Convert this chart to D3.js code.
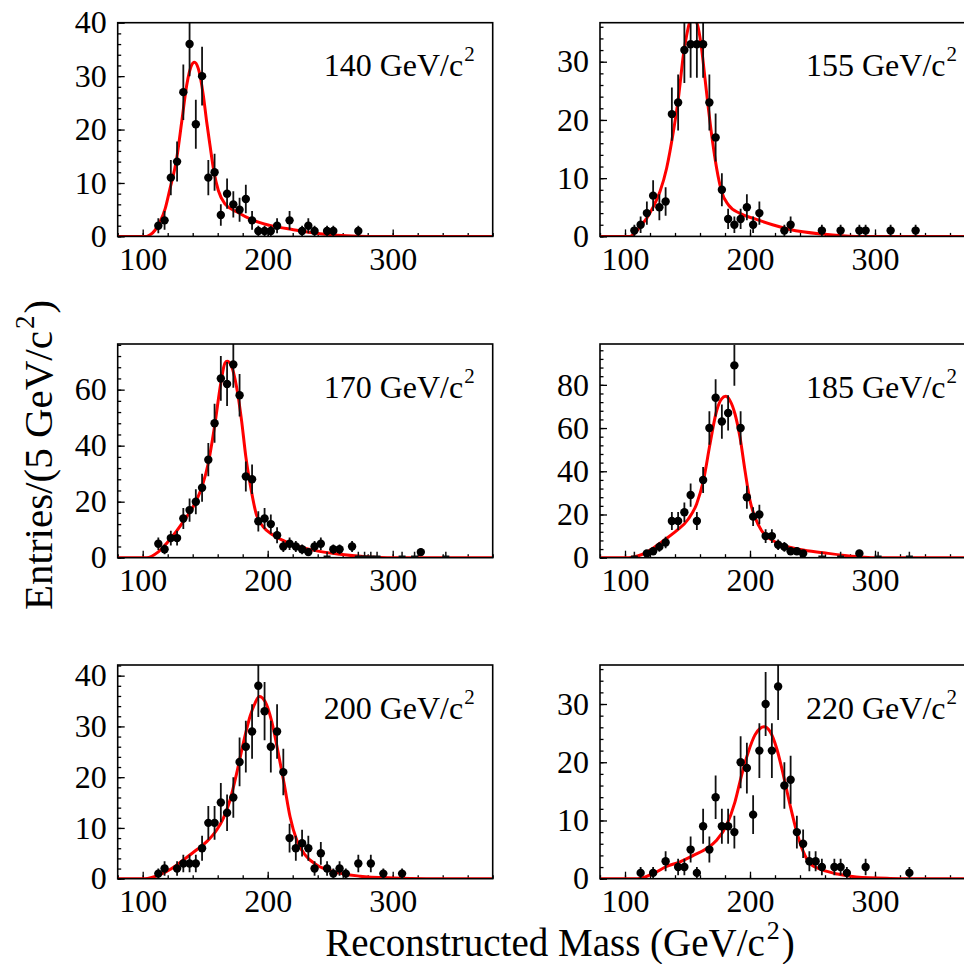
<!DOCTYPE html>
<meta charset="utf-8">
<style>
body { margin: 0; background: #fff; }
text { font-family: "Liberation Serif", "Times New Roman", serif; fill: #000; }
.frame { fill: none; stroke: #000; stroke-width: 1.6px; }
.axis path.domain { display: none; }
.axis line { stroke: #000; stroke-width: 1.3px; }
.fit { fill: none; stroke: #ff0000; stroke-width: 3px; }
.err { stroke: #111; stroke-width: 1.8px; }
.zero { stroke: #111; stroke-width: 1.5px; }
</style>
<svg width="964" height="964"></svg>
<script src="https://d3js.org/d3.v7.min.js"></script>
<script>
// Higgs mass hypotheses, one panel each
var masses = [140, 155, 170, 185, 200, 220];
var yTop = [40, 36.7, 76.3, 98.9, 42.1, 36.7];
var yMajor = [10, 10, 20, 20, 10, 10];
var xTicks = [100, 200, 300];

// [bin centre, entries]
var hist140 = [[112.5,2],[117.5,3],[122.5,11],[127.5,14],[132.5,27],[137.5,36],[142.5,21],[147.5,30],[152.5,11],[157.5,12],[162.5,4],[167.5,8],[172.5,6],[177.5,5],[182.5,7],[187.5,3],[192.5,1],[197.5,1],[202.5,1],[207.5,2],[217.5,3],[227.5,1],[232.5,2],[237.5,1],[247.5,1],[252.5,1],[272.5,1]];
var hist155 = [[107.5,1],[112.5,2],[117.5,4],[122.5,7],[127.5,5],[132.5,6],[137.5,21],[142.5,23],[147.5,32],[152.5,33],[157.5,33],[162.5,33],[167.5,23],[172.5,17],[177.5,8],[182.5,3],[187.5,2],[192.5,3],[197.5,5],[202.5,2],[207.5,4],[227.5,1],[232.5,2],[257.5,1],[272.5,1],[287.5,1],[292.5,1],[312.5,1],[332.5,1]];
var hist170 = [[112.5,5],[117.5,3],[122.5,7],[127.5,7],[132.5,14],[137.5,17],[142.5,20],[147.5,25],[152.5,35],[157.5,48],[162.5,64],[167.5,62],[172.5,69],[177.5,58],[182.5,29],[187.5,28],[192.5,13],[197.5,14],[202.5,12],[207.5,8],[212.5,4],[217.5,5],[222.5,4],[227.5,3],[232.5,2],[237.5,4],[242.5,5],[252.5,3],[257.5,3],[267.5,4],[322.5,2]];
var hist185 = [[117.5,2],[122.5,3],[127.5,5],[132.5,7],[137.5,17],[142.5,17],[147.5,21],[152.5,29],[157.5,17],[162.5,36],[167.5,60],[172.5,74],[177.5,63],[182.5,67],[187.5,89],[192.5,60],[197.5,28],[202.5,19],[207.5,20],[212.5,10],[217.5,10],[222.5,6],[227.5,5],[232.5,3],[237.5,3],[242.5,2],[287.5,2]];
var hist200 = [[112.5,1],[117.5,2],[127.5,2],[132.5,3],[137.5,3],[142.5,3],[147.5,6],[152.5,11],[157.5,11],[162.5,15],[167.5,13],[172.5,16],[177.5,23],[182.5,26],[187.5,29],[192.5,38],[197.5,33],[202.5,26],[207.5,29],[212.5,21],[217.5,8],[222.5,6],[227.5,7],[232.5,6],[237.5,2],[242.5,5],[247.5,2],[252.5,1],[257.5,2],[262.5,1],[272.5,3],[282.5,3],[292.5,1],[307.5,1]];
var hist220 = [[112.5,1],[122.5,1],[132.5,3],[142.5,2],[147.5,2],[152.5,5],[157.5,1],[162.5,9],[167.5,5],[172.5,14],[177.5,9],[182.5,9],[187.5,8],[192.5,20],[197.5,19],[202.5,11],[207.5,22],[212.5,30],[217.5,22],[222.5,33],[227.5,16],[232.5,17],[237.5,8],[242.5,6],[247.5,3],[252.5,3],[257.5,2],[267.5,2],[272.5,2],[277.5,1],[292.5,2],[327.5,1]];

// empty bins drawn with a cross
var zeros140 = [];
var zeros155 = [];
var zeros170 = [247.5, 272.5, 277.5, 282.5, 287.5, 307.5, 317.5, 342.5];
var zeros185 = [107.5, 257.5, 272.5, 302.5, 327.5];
var zeros200 = [];
var zeros220 = [];

// fitted curves [mass, entries]
var fit140 = [[80,0],[103,0],[106,0.3],[110,1.2],[113.8,2.7],[118,5.2],[121.8,8.9],[127.2,14.6],[131.2,21.4],[135.2,28.3],[139.2,32.1],[141.3,32.6],[144.5,31.4],[148.5,26.4],[151.2,21.4],[153.8,17.1],[157,12.1],[160.5,8.6],[165.8,6.1],[175.2,4.6],[188.5,3.0],[201.8,2.06],[220.5,1.25],[241.8,0.5],[263,0.1],[280,0],[380,0]];
var fit155 = [[80,0],[104,0],[108,0.6],[112,1.66],[117.3,3.1],[122.7,5.1],[128,7.7],[133.3,11.7],[138.7,18],[142.7,23.7],[146.7,31.1],[149.3,34.5],[152,37],[154.5,37.8],[157,37],[158.7,35.7],[161.3,32.2],[164,27.1],[166.7,22],[170.1,16.2],[173.3,11.7],[177.3,7.7],[182.7,5.4],[192,3.95],[204,3.0],[218,2.0],[232,1.2],[258,0.4],[285,0],[380,0]];
var fit170 = [[80,0],[103,0],[112.5,2.1],[122.5,6.9],[132.5,12.9],[142.5,20],[147.5,25.4],[152.5,33.8],[157.5,46.9],[162.5,62.4],[165.8,69.5],[167.6,70.1],[171,68.4],[175,61.2],[179,49.3],[182.5,36.1],[186.3,25.4],[191,15.3],[196.3,11.1],[204.3,8.1],[217.7,5.1],[236.3,2.7],[257.7,1.2],[279,0.35],[300,0],[380,0]];
var fit185 = [[80,0],[103,0],[110,0.8],[117.3,2.5],[130.7,7.9],[141.3,12.5],[150.7,17.9],[157.3,24.9],[162.7,35.6],[168,52.6],[173.3,68],[177.3,73.5],[180.5,74.7],[184,72.7],[188,66.5],[192,55.7],[196,40.3],[200,26.4],[204,18.7],[209.3,12.5],[216,8.7],[224,6.3],[240,3.8],[258.7,2.3],[285.3,0.5],[299,0],[380,0]];
var fit200 = [[80,0],[101.8,0],[112.8,0.7],[123.2,2.0],[132.5,3.7],[143.2,5.7],[151.2,7.3],[159.2,9.6],[164.5,11.9],[169.9,15.5],[175.2,20.8],[180.5,26.7],[185.9,32],[189.9,34.6],[193.3,35.9],[197.9,34.9],[203.2,31],[208.5,24.7],[213.1,18.8],[217.9,12.2],[223.2,7.6],[229.9,4.7],[239.2,2.7],[252.5,1.4],[273.9,0.5],[300.5,0.13],[327,0],[380,0]];
var fit220 = [[80,0],[110,0],[122.7,0.9],[133.3,2.1],[144,2.9],[154.7,4.0],[165.3,5.2],[173.3,6.6],[181.3,9.2],[188,13.2],[193.3,17.8],[198.7,21.8],[204,24.7],[208,25.8],[211.2,26.1],[216,25.3],[221.3,22.4],[226.7,17.8],[232,12.7],[237.3,8.1],[242.7,4.6],[248,2.6],[258,1.5],[270,0.8],[285,0.3],[312,0.05],[330,0],[380,0]];

var hists = [hist140, hist155, hist170, hist185, hist200, hist220];
var zeros = [zeros140, zeros155, zeros170, zeros185, zeros200, zeros220];
var fits = [fit140, fit155, fit170, fit185, fit200, fit220];

var serif = '"Liberation Serif", "Times New Roman", serif';
var svg = d3.select("svg");
svg.append("rect").attr("width", 964).attr("height", 964).attr("fill", "#fff");

var colX = [117.7, 600], rowY = [22.7, 344, 665],
    pw = 375, ph = 213.7;

masses.forEach(function(m, i) {
  var left = colX[i % 2], top = rowY[Math.floor(i / 2)];
  var x = d3.scaleLinear().domain([80, 380]).range([left, left + pw]);
  var y = d3.scaleLinear().domain([0, yTop[i]]).range([top + ph, top]);
  var g = svg.append("g");

  g.append("clipPath").attr("id", "clip" + i)
    .append("rect").attr("x", left).attr("y", top).attr("width", pw).attr("height", ph);

  // ticks (inward)
  g.append("g").attr("class", "axis")
      .attr("transform", "translate(0," + (top + ph) + ")")
      .call(d3.axisBottom(x).tickValues(d3.range(80, 381, 20)).tickSize(-3.5).tickFormat(""));
  g.append("g").attr("class", "axis")
      .attr("transform", "translate(0," + (top + ph) + ")")
      .call(d3.axisBottom(x).tickValues(xTicks).tickSize(-7).tickPadding(11).tickFormat(d3.format("d")))
      .attr("font-family", serif)
      .selectAll("text").style("font-size", "32px").style("font-family", serif).attr("fill", "#000");
  g.append("g").attr("class", "axis")
      .attr("transform", "translate(" + left + ",0)")
      .call(d3.axisLeft(y).tickValues(d3.range(0, yTop[i], yMajor[i] / 5)).tickSize(-3.5).tickFormat(""));
  g.append("g").attr("class", "axis")
      .attr("transform", "translate(" + left + ",0)")
      .call(d3.axisLeft(y).tickValues(d3.range(0, yTop[i] + 0.01, yMajor[i])).tickSize(-7).tickPadding(11).tickFormat(d3.format("d")))
      .attr("font-family", serif)
      .selectAll("text").style("font-size", "32px").style("font-family", serif).attr("fill", "#000");

  var plot = g.append("g").attr("clip-path", "url(#clip" + i + ")");

  plot.append("path")
      .datum(fits[i])
      .attr("class", "fit")
      .attr("d", d3.line().curve(d3.curveMonotoneX)
        .x(function(d) { return x(d[0]); })
        .y(function(d) { return y(d[1]); }));

  plot.selectAll(".err").data(hists[i]).enter().append("line")
      .attr("class", "err")
      .attr("x1", function(d) { return x(d[0]); })
      .attr("x2", function(d) { return x(d[0]); })
      .attr("y1", function(d) { return y(d[1] - Math.sqrt(d[1])); })
      .attr("y2", function(d) { return y(d[1] + Math.sqrt(d[1])); });

  plot.selectAll(".dot").data(hists[i]).enter().append("circle")
      .attr("cx", function(d) { return x(d[0]); })
      .attr("cy", function(d) { return y(d[1]); })
      .attr("r", 4.2)
      .attr("fill", "#000");

  var z = plot.selectAll(".zero").data(zeros[i]).enter().append("g").attr("class", "zero");
  z.append("line")
      .attr("x1", function(d) { return x(d) - 3.5; }).attr("x2", function(d) { return x(d) + 3.5; })
      .attr("y1", y(0) - 1.5).attr("y2", y(0) - 1.5);
  z.append("line")
      .attr("x1", function(d) { return x(d); }).attr("x2", function(d) { return x(d); })
      .attr("y1", y(0) - 6).attr("y2", y(0));

  g.append("rect").attr("class", "frame")
      .attr("x", left).attr("y", top).attr("width", pw).attr("height", ph);

  var lab = g.append("text")
      .attr("x", left + pw - 18).attr("y", top + 53.5)
      .attr("text-anchor", "end")
      .style("font-size", "32px")
      .text(m + " GeV/c");
  lab.append("tspan").attr("dy", -15).attr("dx", 1).style("font-size", "21px").text("2");
});

// axis titles
var xt = svg.append("text")
    .attr("x", 560).attr("y", 956)
    .attr("text-anchor", "middle")
    .style("font-size", "39px")
    .text("Reconstructed Mass (GeV/c");
xt.append("tspan").attr("dy", -17).attr("dx", 2).style("font-size", "26px").text("2");
xt.append("tspan").attr("dy", 17).attr("dx", 2).text(")");

var yt = svg.append("text")
    .attr("transform", "translate(52,455) rotate(-90)")
    .attr("text-anchor", "middle")
    .style("font-size", "41px")
    .text("Entries/(5 GeV/c");
yt.append("tspan").attr("dy", -18).attr("dx", 2).style("font-size", "27px").text("2");
yt.append("tspan").attr("dy", 18).attr("dx", 2).text(")");
</script>
